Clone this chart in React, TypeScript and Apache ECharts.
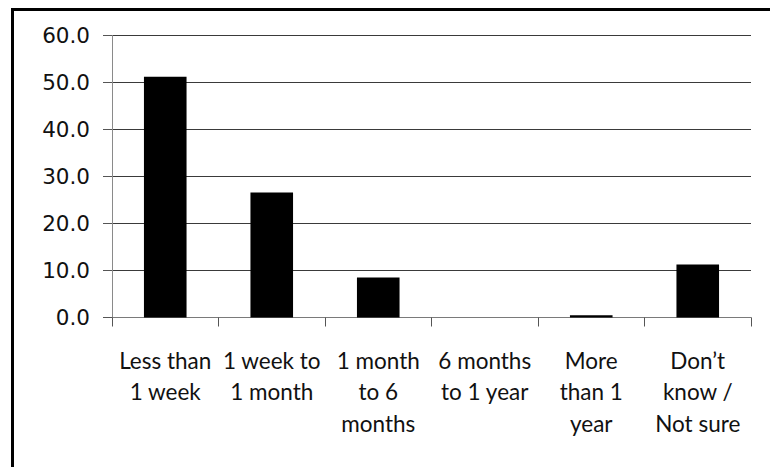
import React, { useEffect, useRef } from "react";
import * as echarts from "echarts";

// Time-to-event categories and share of respondents (%)
const categories: string[] = [
  "Less than\n1 week",
  "1 week to\n1 month",
  "1 month\nto 6\nmonths",
  "6 months\nto 1 year",
  "More\nthan 1\nyear",
  "Don\u2019t\nknow /\nNot sure",
];
const percentages: number[] = [51.2, 26.6, 8.5, 0.0, 0.5, 11.3];

const yMin = 0;
const yMax = 60;
const yStep = 10;

export default function App() {
  const ref = useRef<HTMLDivElement>(null);

  useEffect(() => {
    if (!ref.current) return;
    const chart = echarts.init(ref.current, undefined, { renderer: "svg" });
    chart.setOption({
      animation: false,
      backgroundColor: "#ffffff",
      graphic: [
        {
          type: "rect",
          left: 10,
          top: 7,
          shape: { x: 0, y: 0, width: 820, height: 520 },
          style: { fill: "none", stroke: "#000000", lineWidth: 3 },
          silent: true,
        },
      ],
      grid: { left: 112, right: 19, top: 35.5, bottom: 149.5, containLabel: false },
      xAxis: {
        type: "category",
        data: categories,
        axisLine: { show: true, lineStyle: { color: "#7a7a7a", width: 1 } },
        axisTick: {
          show: true,
          alignWithLabel: false,
          length: 9,
          lineStyle: { color: "#555555", width: 1 },
        },
        axisLabel: {
          interval: 0,
          margin: 27,
          color: "#111111",
          fontFamily: "Lato, 'Open Sans', sans-serif",
          fontSize: 22.5,
          lineHeight: 31.5,
          align: "center",
        },
      },
      yAxis: {
        type: "value",
        min: yMin,
        max: yMax,
        interval: yStep,
        axisLine: { show: true, lineStyle: { color: "#8a8a8a", width: 1 } },
        axisTick: { show: true, length: 9, lineStyle: { color: "#555555", width: 1 } },
        splitLine: { show: true, lineStyle: { color: "#3a3a3a", width: 1 } },
        axisLabel: {
          margin: 22,
          color: "#111111",
          fontFamily: "'DejaVu Sans', Verdana, sans-serif",
          fontSize: 21.5,
          formatter: (v: number) => v.toFixed(1),
        },
      },
      series: [
        {
          type: "bar",
          data: percentages,
          barCategoryGap: "60%",
          itemStyle: { color: "#000000" },
        },
      ],
    });
    return () => chart.dispose();
  }, []);

  return (
    <div
      ref={ref}
      style={{ position: "absolute", left: 0, top: 0, width: 770, height: 467 }}
    />
  );
}
